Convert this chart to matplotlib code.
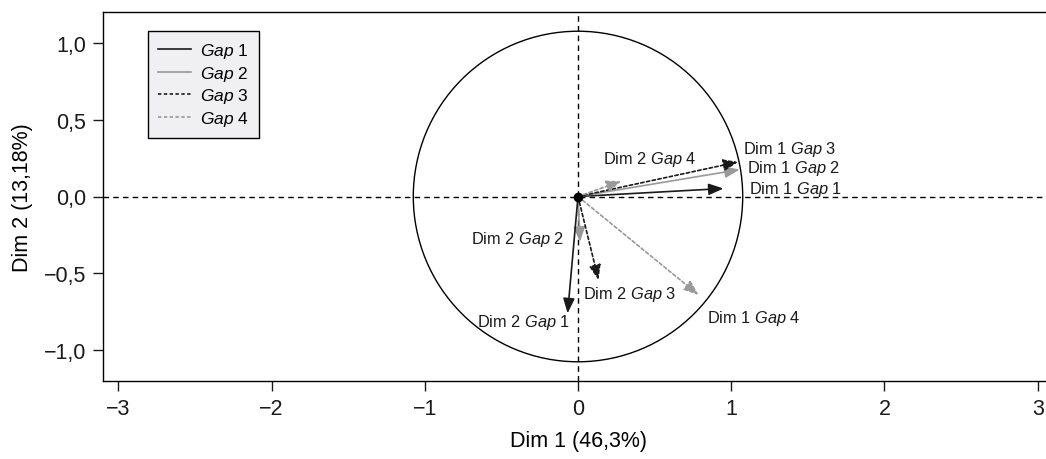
import matplotlib
matplotlib.use("Agg")
import matplotlib.pyplot as plt
from matplotlib.patches import Circle
from matplotlib.lines import Line2D

plt.rcParams['font.family'] = ['Liberation Sans', 'DejaVu Sans']
plt.rcParams['mathtext.fontset'] = 'custom'
plt.rcParams['mathtext.rm'] = 'Liberation Sans'
plt.rcParams['mathtext.it'] = 'Liberation Sans:italic'

# ---- data ----
vectors = ["Dim 1 Gap 1", "Dim 1 Gap 2", "Dim 1 Gap 3", "Dim 2 Gap 4",
           "Dim 1 Gap 4", "Dim 2 Gap 2", "Dim 2 Gap 3", "Dim 2 Gap 1"]
vec_x = [0.95, 1.055, 1.046, 0.283, 0.787, 0.013, 0.134, -0.068]
vec_y = [0.052, 0.175, 0.225, 0.10, -0.64, -0.295, -0.543, -0.76]
vec_gap = [1, 2, 3, 4, 4, 2, 3, 1]
label_x = [1.117, 1.105, 1.08, 0.467, 0.84, -0.09, 0.03, -0.66]
label_y = [0.052, 0.19, 0.31, 0.247, -0.79, -0.27, -0.63, -0.81]
label_ha = ["left", "left", "left", "center", "left", "right", "left", "left"]
circle_r = 1.075
x_ticks = [-3, -2, -1, 0, 1, 2, 3]
y_ticks = [-1.0, -0.5, 0.0, 0.5, 1.0]
y_tick_labels = ["\u22121,0", "\u22120,5", "0,0", "0,5", "1,0"]
x_tick_labels = ["\u22123", "\u22122", "\u22121", "0", "1", "2", "3"]
xlabel = "Dim 1 (46,3%)"
ylabel = "Dim 2 (13,18%)"

gap_styles = {
    1: dict(color="#1a1a1a", ls="-"),
    2: dict(color="#999999", ls="-"),
    3: dict(color="#1a1a1a", ls=(0, (2, 1.5))),
    4: dict(color="#999999", ls=(0, (2, 1.5))),
}

def mlabel(s):
    parts = s.split()
    return f"{parts[0]} {parts[1]} $\\mathit{{Gap}}$ {parts[3]}"

fig = plt.figure(figsize=(10.46, 4.6), dpi=100)
ax = fig.add_axes([103/1046, 78/460, 950/1046, 369/460])
ax.set_xlim(-3.1, 3.1)
ax.set_ylim(-1.2, 1.2)

ax.axhline(0, color="black", lw=1.0, ls=(0, (4, 3)), zorder=1)
ax.axvline(0, color="black", lw=1.0, ls=(0, (4, 3)), zorder=1)
ax.add_patch(Circle((0, 0), circle_r, fill=False, ec="black", lw=1.0, zorder=1))

for name, x, y, g, lx, ly, ha in zip(vectors, vec_x, vec_y, vec_gap, label_x, label_y, label_ha):
    st = gap_styles[g]
    ax.annotate("", xy=(x, y), xytext=(0, 0),
                arrowprops=dict(arrowstyle="-|>,head_length=0.9,head_width=0.35",
                                color=st["color"], lw=1.2, linestyle=st["ls"],
                                shrinkA=0, shrinkB=0), zorder=3)
    ax.text(lx, ly, mlabel(name), ha=ha, va="center", fontsize=11.8, color="#1a1a1a", zorder=4)

ax.plot([0], [0], "o", color="black", ms=6, zorder=5)

ax.set_xticks(x_ticks)
ax.set_xticklabels(x_tick_labels)
ax.set_yticks(y_ticks)
ax.set_yticklabels(y_tick_labels)
ax.tick_params(direction="out", length=7, width=1, labelsize=15.5, colors="#1a1a1a", pad=5)
for s in ax.spines.values():
    s.set_linewidth(1.0)
ax.set_xlabel(xlabel, fontsize=15.5, labelpad=8)
ax.set_ylabel(ylabel, fontsize=15.5, labelpad=8)

handles = [Line2D([0], [0], color=gap_styles[g]["color"], ls=gap_styles[g]["ls"], lw=1.2)
           for g in [1, 2, 3, 4]]
labels = [f"$\\mathit{{Gap}}$ {g}" for g in [1, 2, 3, 4]]
leg = ax.legend(handles, labels, loc="upper left", bbox_to_anchor=(45/950, 1 - 19/369),
                frameon=True, fancybox=False, fontsize=12.5, handlelength=1.9,
                borderpad=0.6, labelspacing=0.2, handletextpad=0.5, borderaxespad=0)
leg.get_frame().set_facecolor("#f0f0f2")
leg.get_frame().set_edgecolor("black")
leg.get_frame().set_linewidth(1.0)
leg.get_frame().set_alpha(1)

fig.savefig("out.png", dpi=100)
